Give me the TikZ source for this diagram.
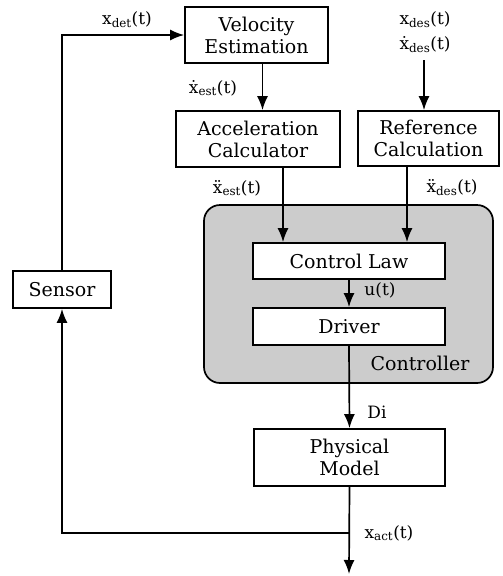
\documentclass[tikz,border=0pt]{standalone}
\usepackage{fontspec}
\setmainfont{DejaVu Serif}
\usetikzlibrary{arrows.meta,positioning}

\begin{document}
\begin{tikzpicture}[x=1pt,y=-1pt,
    block/.style={draw, line width=1.7pt, fill=white, inner sep=0pt, align=center,
        font=\fontsize{19}{22}\selectfont},
    lbl/.style={font=\fontsize{17}{19}\selectfont, inner sep=0pt},
    arr/.style={line width=1.7pt, -{Latex[length=14pt,width=11pt]}}]
    \useasboundingbox (0,0) rectangle (503,576);

    % Controller area
    \draw[line width=1.7pt, fill=black!20, rounded corners=16pt] (204,205) rectangle (493,383);
    \node[lbl, font=\fontsize{19}{21}\selectfont] (ctrltxt) at (420,363) {Controller};

    % Blocks
    \node[block, minimum width=143pt, minimum height=56pt] (vel) at (256.5,35) {Velocity\\Estimation};
    \node[block, minimum width=164pt, minimum height=56pt] (acc) at (258,139) {Acceleration\\Calculator};
    \node[block, minimum width=141pt, minimum height=55pt] (ref) at (428.5,138.5) {Reference\\Calculation};
    \node[block, minimum width=192pt, minimum height=36pt] (law) at (349,261) {Control Law};
    \node[block, minimum width=192pt, minimum height=37pt] (drv) at (349,326.5) {Driver};
    \node[block, minimum width=191pt, minimum height=57pt] (phys) at (349.5,457.5) {Physical\\Model};
    \node[block, minimum width=98pt, minimum height=37pt] (sensor) at (62,289.5) {Sensor};

    % Free ends
    \coordinate (desin) at (424,60);
    \coordinate (tap) at (349,533);
    \coordinate (out) at (349,574);

    % Connectors
    \draw[arr] (sensor.north) |- (vel.west);
    \draw[arr] ([xshift=6pt]vel.south) -- ([xshift=6pt]vel.south |- acc.north);
    \draw[arr] (desin) -- (desin |- ref.north);
    \draw[arr] ([xshift=25pt]acc.south) -- ([xshift=25pt]acc.south |- law.north);
    \draw[arr] ([xshift=-21.5pt]ref.south) -- ([xshift=-21.5pt]ref.south |- law.north);
    \draw[arr] (law.south) -- (drv.north);
    \draw[arr] (drv.south) -- (phys.north);
    \draw[arr] (phys.south) -- (out);
    \draw[arr] (tap) -| (sensor.south);

    % Signal labels
    \node[lbl] (xdet) at (127,20) {x\textsubscript{det}(t)};
    \node[lbl] (xestd) at (213,88) {\.{x}\textsubscript{est}(t)};
    \node[lbl] (xdes) at (425,20) {x\textsubscript{des}(t)};
    \node[lbl] (xdesd) at (425,45) {\.{x}\textsubscript{des}(t)};
    \node[lbl] (xestdd) at (237,188) {\"{x}\textsubscript{est}(t)};
    \node[lbl] (xdesdd) at (452,188) {\"{x}\textsubscript{des}(t)};
    \node[lbl] (ut) at (380,290) {u(t)};
    \node[lbl] (di) at (377,412) {Di};
    \node[lbl] (xact) at (389,533) {x\textsubscript{act}(t)};
\end{tikzpicture}
\end{document}
